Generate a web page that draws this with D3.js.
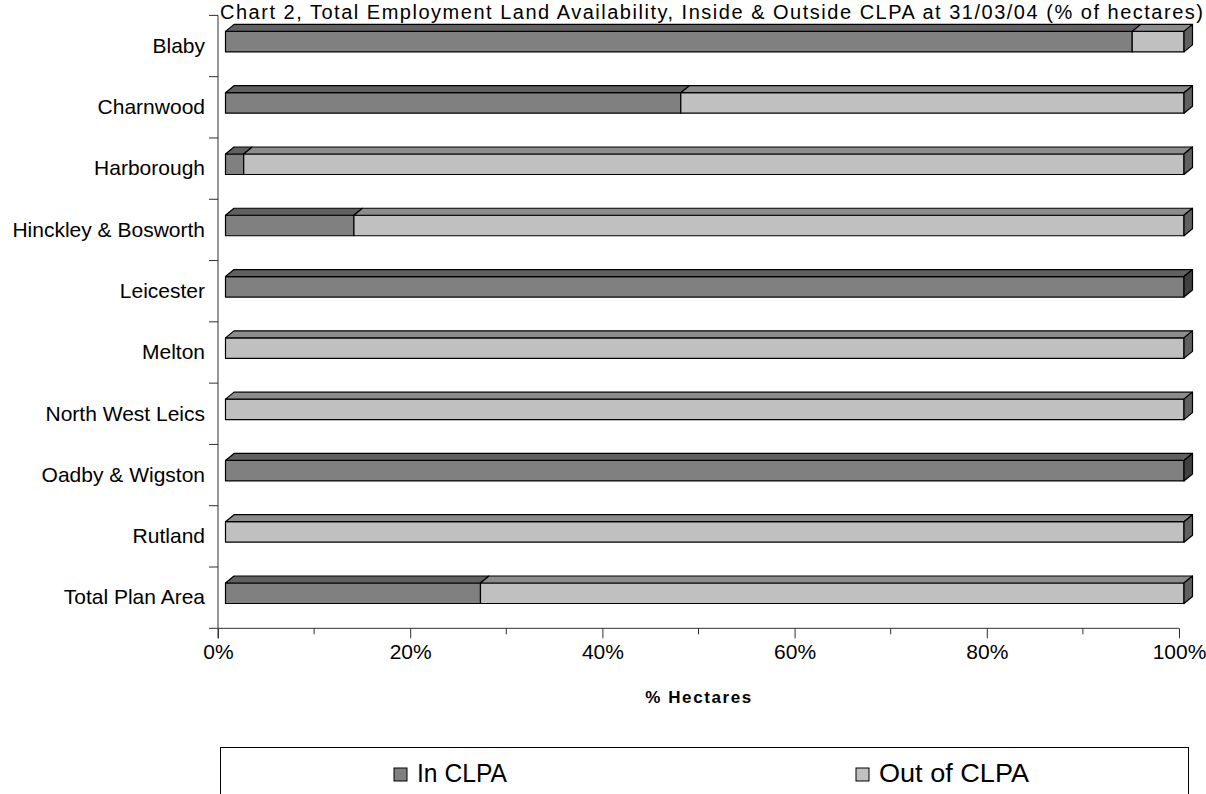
<!DOCTYPE html>
<html>
<head>
<title>Employment Land Availability - In / Out of CLPA</title>
<style>
 body { margin: 0; background: #fff; }
 text { font-family: "Liberation Sans", Arial, sans-serif; fill: #000; }
</style>
</head>
<body>
<div id="chart"></div>

<script src="https://d3js.org/d3.v7.min.js"></script>  <!-- Main D3 Library -->
<script>

//DATA (% of hectares)
var categories = ["Blaby", "Charnwood", "Harborough", "Hinckley & Bosworth", "Leicester",
                  "Melton", "North West Leics", "Oadby & Wigston", "Rutland", "Total Plan Area"];
var inCLPA  = [94.6, 47.5, 1.9, 13.4, 100, 0, 0, 100, 0, 26.6];
var outCLPA = [5.4, 52.5, 98.1, 86.6, 0, 100, 100, 0, 100, 73.4];
var seriesNames = ["In CLPA", "Out of CLPA"];
var xTicks = [0, 20, 40, 60, 80, 100];
var xMinorTicks = [10, 30, 50, 70, 90];
var titleText = "Chart 2, Total Employment Land Availability, Inside & Outside CLPA at 31/03/04 (% of hectares)";
var xTitle = "% Hectares";

//Dimensions
var width = 1206, height = 794;
var depthX = 8.5, depthY = 7;     // 3d extrusion of the bars
var barOff = 16, barH = 20.5;      // front face inside each band

var faceCol = ["#808080", "#c0c0c0"],
    topCol  = ["#606060", "#8c8c8c"],
    sideCol = ["#404040", "#606060"];

var svg = d3.select("#chart").append("svg")
    .attr("width", width)
    .attr("height", height);

//Scales
var x = d3.scaleLinear().domain([0, 100]).range([218, 1179]);
var xBar = d3.scaleLinear().domain([0, 100]).range([225.5, 1184]);   // front face sits a little right of the axis
var y = d3.scaleBand().domain(categories).range([15.4, 628.3]);

//Title (sits hard against the top edge)
svg.append("text")
   .attr("x", 711.5)
   .attr("y", 19)
   .attr("text-anchor", "middle")
   .attr("textLength", 983)
   .attr("lengthAdjust", "spacing")
   .style("font-size", "20px")
   .text(titleText);

//Stack the two series
var rows = categories.map(function(c, i) {
   var r = {cat: c};
   r[seriesNames[0]] = inCLPA[i];
   r[seriesNames[1]] = outCLPA[i];
   return r;
});
var stacked = d3.stack().keys(seriesNames)(rows);

//Bars
var bars = svg.append("g").attr("class", "bars");

categories.forEach(function(c, i) {
   var g = bars.append("g");
   var yf = y(c) + barOff;
   var last = null;
   stacked.forEach(function(layer, k) {
      var x0 = xBar(layer[i][0]), x1 = xBar(layer[i][1]);
      if (x1 - x0 <= 0) return;
      g.append("rect")
       .attr("x", x0).attr("y", yf)
       .attr("width", x1 - x0).attr("height", barH)
       .attr("fill", faceCol[k]);
      g.append("polygon")
       .attr("points", [[x0, yf], [x0 + depthX, yf - depthY], [x1 + depthX, yf - depthY], [x1, yf]].join(" "))
       .attr("fill", topCol[k]);
      last = {x1: x1, k: k};
   });
   // right hand side of the last segment
   if (last) {
      g.append("polygon")
       .attr("points", [[last.x1, yf], [last.x1 + depthX, yf - depthY], [last.x1 + depthX, yf + barH - depthY], [last.x1, yf + barH]].join(" "))
       .attr("fill", sideCol[last.k]);
   }
   g.selectAll("rect, polygon")
    .attr("stroke", "#000")
    .attr("stroke-width", 1.2)
    .attr("stroke-linejoin", "round");
});

//Axes
var axisCol = "#303030";

// category axis: ticks between the bands
var yBounds = categories.map(function(c) { return y(c); });
svg.append("line")
   .attr("x1", x(0)).attr("x2", x(0))
   .attr("y1", y.range()[0]).attr("y2", y.range()[1] + 10)
   .attr("stroke", axisCol);
svg.selectAll(".ytick")
   .data(yBounds)
   .enter()
   .append("line")
   .attr("class", "ytick")
   .attr("x1", x(0) - 9).attr("x2", x(0))
   .attr("y1", d => d).attr("y2", d => d)
   .attr("stroke", axisCol);

var yAxis = svg.append("g")
   .attr("transform", "translate(" + x(0) + ",0)")
   .call(d3.axisLeft(y).tickSize(0).tickPadding(13));
yAxis.select(".domain").remove();
yAxis.selectAll("text")
   .style("font-size", "21px")
   .style("font-family", "'Liberation Sans', Arial, sans-serif");

// value axis
var xAxis = svg.append("g")
   .attr("transform", "translate(0," + y.range()[1] + ")")
   .call(d3.axisBottom(x).tickValues(xTicks).tickFormat(d => d + "%").tickSize(10).tickSizeOuter(0).tickPadding(6));
xAxis.select(".domain").remove();
xAxis.selectAll("line").attr("stroke", axisCol);
xAxis.selectAll("text")
   .style("font-size", "21px")
   .style("font-family", "'Liberation Sans', Arial, sans-serif");

svg.selectAll(".xminor")
   .data(xMinorTicks)
   .enter()
   .append("line")
   .attr("class", "xminor")
   .attr("x1", d => x(d)).attr("x2", d => x(d))
   .attr("y1", y.range()[1]).attr("y2", y.range()[1] + 6)
   .attr("stroke", axisCol);

svg.append("line")
   .attr("x1", x(0) - 9).attr("x2", x(100))
   .attr("y1", y.range()[1]).attr("y2", y.range()[1])
   .attr("stroke", axisCol);

svg.append("text")
   .attr("x", 699)
   .attr("y", 703)
   .attr("text-anchor", "middle")
   .style("font-size", "17px")
   .style("font-weight", "bold")
   .style("letter-spacing", "1.6px")
   .text(xTitle);

//Legend (bottom is cut off in the original)
var legend = svg.append("g");
legend.append("rect")
   .attr("x", 220.5).attr("y", 747.5)
   .attr("width", 968).attr("height", 80)
   .attr("fill", "#fff")
   .attr("stroke", "#000")
   .attr("stroke-width", 1);

var legItems = [{x: 394, len: 90}, {x: 856, len: 150}];
legend.selectAll(".legItem")
   .data(seriesNames)
   .enter()
   .append("g")
   .attr("class", "legItem")
   .each(function(d, k) {
      var g = d3.select(this);
      g.append("rect")
       .attr("x", legItems[k].x).attr("y", 768)
       .attr("width", 13).attr("height", 13)
       .attr("fill", faceCol[k])
       .attr("stroke", "#000");
      g.append("text")
       .attr("x", legItems[k].x + 23)
       .attr("y", 782)
       .attr("textLength", legItems[k].len)
       .attr("lengthAdjust", "spacingAndGlyphs")
       .style("font-size", "26px")
       .text(d);
   });

</script>
</body>
</html>
